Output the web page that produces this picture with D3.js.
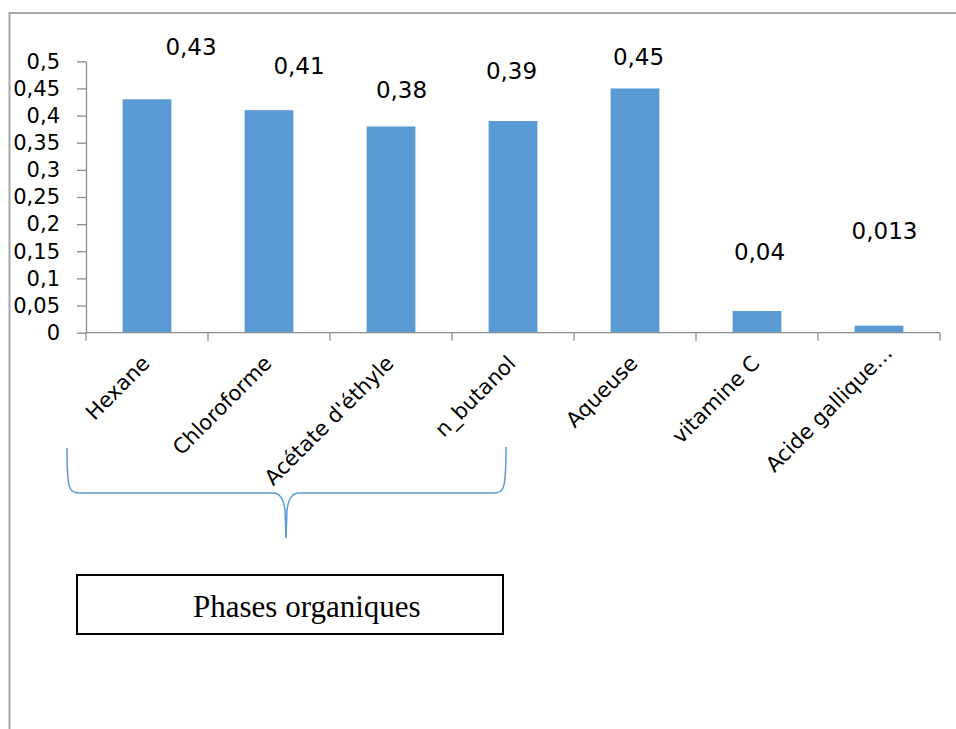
<!DOCTYPE html>
<html>
<head>
<meta charset="utf-8">
<script src="https://cdn.jsdelivr.net/npm/d3@7"></script>
<style>
  html, body { margin: 0; padding: 0; background: #fff; }
  svg { display: block; }
</style>
</head>
<body>
<svg id="chart" width="956" height="729"></svg>
<script>
// Absorbance per extract and reference compounds
const categories = ["Hexane", "Chloroforme", "Acétate d'éthyle", "n_butanol", "Aqueuse", "vitamine C", "Acide gallique…"];
const values = [0.43, 0.41, 0.38, 0.39, 0.45, 0.04, 0.013];
const valueLabels = ["0,43", "0,41", "0,38", "0,39", "0,45", "0,04", "0,013"];
const yTicks = [0, 0.05, 0.1, 0.15, 0.2, 0.25, 0.3, 0.35, 0.4, 0.45, 0.5];
const groupLabel = "Phases organiques";

// Hand-placed data label nudges (relative to the bar top centre)
const labelNudgeX = [44, 30, 10.5, -1.5, 3.5, 2.5, 5.5];
const labelNudgeY = [-44, -36, -28, -42, -23.5, -51, -86.5];
// Slide of each category label along its own (rotated) baseline
const catSlide = [0, 0, 0, 0, 0, 0, 15];

const svg = d3.select("#chart");
const plot = { left: 86, right: 940, top: 61.3, bottom: 332.7 };
const barColor = "#5B9BD5";
const axisColor = "#8c8c8c";
const font = "'DejaVu Sans', sans-serif";

const x = d3.scaleBand()
  .domain(categories)
  .range([plot.left, plot.right])
  .paddingInner(0.6)
  .paddingOuter(0.3);

const y = d3.scaleLinear()
  .domain([0, 0.5])
  .range([plot.bottom, plot.top]);

// Outer frame (top and left edges)
svg.append("path")
  .attr("d", "M9.5,729 L9.5,13 L956,13")
  .attr("fill", "none")
  .attr("stroke", "#a6a6a6")
  .attr("stroke-width", 2);

// Bars
svg.append("g").selectAll("rect")
  .data(values)
  .join("rect")
  .attr("x", (d, i) => x(categories[i]))
  .attr("y", d => y(d))
  .attr("width", x.bandwidth())
  .attr("height", d => y(0) - y(d))
  .attr("fill", barColor);

// Y axis
const yAxis = d3.axisLeft(y)
  .tickValues(yTicks)
  .tickSize(9)
  .tickSizeOuter(0)
  .tickPadding(17)
  .tickFormat(d => String(+d.toFixed(2)).replace(".", ","));

const gy = svg.append("g")
  .attr("transform", `translate(${plot.left},0)`)
  .call(yAxis);
gy.select(".domain").attr("stroke", axisColor).attr("stroke-width", 1.3);
gy.selectAll(".tick line").attr("stroke", axisColor).attr("stroke-width", 1.3);
gy.selectAll(".tick text")
  .attr("fill", "#000")
  .style("font-family", font)
  .style("font-size", "21px");

// X axis: baseline with ticks on category boundaries
const step = x.step();
const boundaries = d3.range(categories.length + 1).map(i => plot.left + i * step);
const gx = svg.append("g");
gx.append("line")
  .attr("x1", plot.left).attr("x2", plot.right)
  .attr("y1", y(0)).attr("y2", y(0))
  .attr("stroke", axisColor).attr("stroke-width", 1.3);
gx.selectAll("line.tick")
  .data(boundaries)
  .join("line")
  .attr("class", "tick")
  .attr("x1", d => d).attr("x2", d => d)
  .attr("y1", y(0)).attr("y2", y(0) + 8)
  .attr("stroke", axisColor).attr("stroke-width", 1.3);

// Rotated category labels
gx.selectAll("text")
  .data(categories)
  .join("text")
  .attr("transform", d => `translate(${x(d) + x.bandwidth() / 2 + 4},${y(0) + 32}) rotate(-45)`)
  .attr("x", (d, i) => catSlide[i])
  .attr("text-anchor", "end")
  .style("font-family", font)
  .style("font-size", "21px")
  .attr("fill", "#000")
  .text(d => d);

// Value labels
svg.append("g").selectAll("text")
  .data(values)
  .join("text")
  .attr("x", (d, i) => x(categories[i]) + x.bandwidth() / 2 + labelNudgeX[i])
  .attr("y", (d, i) => y(d) + labelNudgeY[i])
  .attr("text-anchor", "middle")
  .style("font-family", font)
  .style("font-size", "23px")
  .attr("fill", "#000")
  .text((d, i) => valueLabels[i]);

// Brace grouping the organic phases
const brace = svg.append("g")
  .attr("fill", "none")
  .attr("stroke", barColor)
  .attr("stroke-width", 1.5);
brace.append("path")
  .attr("d", "M67,448 C67,472 68,484 70,488 Q72,493 80,493 L273,493 Q283,493 285,510 L286,538");
brace.append("path")
  .attr("d", "M506,447 C506,472 505,484 503,488 Q501,493 493,493 L299,493 Q289,493 287,510 L286,538");

// Caption box
svg.append("rect")
  .attr("x", 77).attr("y", 575)
  .attr("width", 426).attr("height", 59)
  .attr("fill", "#fff")
  .attr("stroke", "#000")
  .attr("stroke-width", 2);
svg.append("text")
  .attr("x", 193).attr("y", 617)
  .style("font-family", "'Liberation Serif', 'Times New Roman', serif")
  .style("font-size", "31px")
  .attr("fill", "#000")
  .text(groupLabel);
</script>
</body>
</html>
